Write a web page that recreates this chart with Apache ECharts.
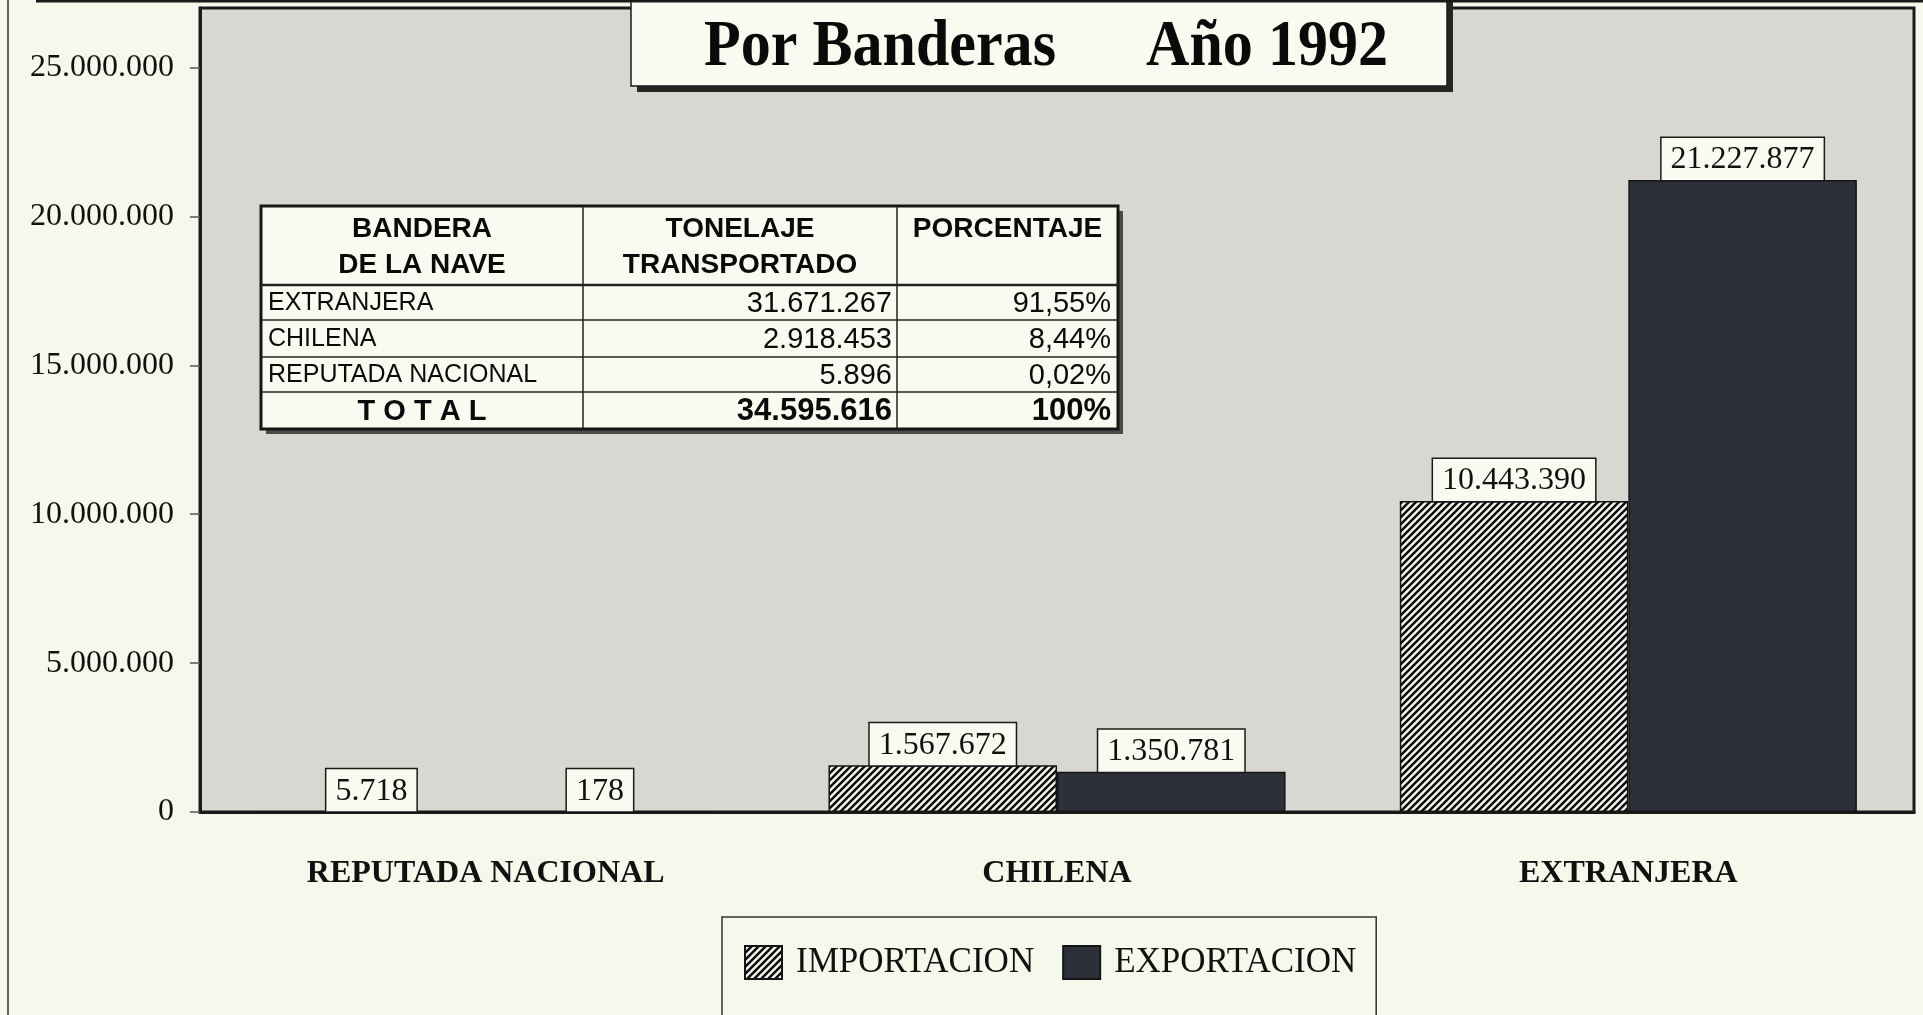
<!DOCTYPE html>
<html>
<head>
<meta charset="utf-8">
<title>Por Banderas Año 1992</title>
<script src="https://cdn.jsdelivr.net/npm/echarts@6/dist/echarts.min.js"></script>
<style>
    html, body { margin: 0; padding: 0; background: #f6f8ec; }
    #chart { width: 1923px; height: 1015px; }
</style>
</head>
<body>
<div id="chart"></div>
<script>
    // datos del grafico
    const categories = ['REPUTADA NACIONAL', 'CHILENA', 'EXTRANJERA'];
    const importacion = [5718, 1567672, 10443390];
    const exportacion = [178, 1350781, 21227877];
    const yTickValues = [0, 5000000, 10000000, 15000000, 20000000, 25000000];
    const titleText = 'Por Banderas      Año 1992';

    // tabla de resumen
    const tableHeaders = [['BANDERA', 'DE LA NAVE'], ['TONELAJE', 'TRANSPORTADO'], ['PORCENTAJE']];
    const tableNames = ['EXTRANJERA', 'CHILENA', 'REPUTADA NACIONAL'];
    const tableTonnage = [31671267, 2918453, 5896];
    const tablePercent = ['91,55%', '8,44%', '0,02%'];
    const tableTotal = ['T O T A L', 34595616, '100%'];

    const SERIF = '"Liberation Serif", "Times New Roman", serif';
    const SANS = '"Liberation Sans", Arial, sans-serif';

    function fmt(v) {
        return String(v).replace(/\B(?=(\d{3})+(?!\d))/g, '.');
    }

    function hatch() {
        let c = document.createElement('canvas');
        c.width = 7;
        c.height = 7;
        let g = c.getContext('2d');
        g.fillStyle = '#f6f6f0';
        g.fillRect(0, 0, 7, 7);
        g.strokeStyle = '#0d0d0d';
        g.lineWidth = 2.5;
        g.beginPath();
        g.moveTo(-1, 8); g.lineTo(8, -1);
        g.moveTo(-1, 1); g.lineTo(1, -1);
        g.moveTo(6, 8); g.lineTo(8, 6);
        g.stroke();
        return c;
    }

    function buildTitle() {
        return {
            type: 'group', z: 30,
            children: [
                { type: 'rect', shape: { x: 637, y: 1, width: 816, height: 91 }, style: { fill: '#262626' } },
                { type: 'rect', shape: { x: 631, y: -5, width: 816, height: 91 }, style: { fill: '#fafbf0', stroke: '#1a1a1a', lineWidth: 1.5 } },
                { type: 'text', x: 704, y: 48, scaleX: 0.91,
                    style: { text: titleText, font: 'bold 66px ' + SERIF, fill: '#0a0a0a', align: 'left', verticalAlign: 'middle' } }
            ]
        };
    }

    function buildTable() {
        const tx = [261, 583, 897, 1118];
        const ty = [206, 285, 320, 357, 392, 429];
        let els = [];
        els.push({ type: 'rect', shape: { x: tx[0] + 5, y: ty[0] + 5, width: tx[3] - tx[0], height: ty[5] - ty[0] }, style: { fill: '#4a4a4a' } });
        els.push({ type: 'rect', shape: { x: tx[0], y: ty[0], width: tx[3] - tx[0], height: ty[5] - ty[0] }, style: { fill: '#fafbf0', stroke: '#161616', lineWidth: 3 } });
        [tx[1], tx[2]].forEach(x => {
            els.push({ type: 'line', shape: { x1: x, y1: ty[0], x2: x, y2: ty[5] }, style: { stroke: '#222', lineWidth: 1.5 } });
        });
        for (let i = 1; i < 5; i++) {
            els.push({ type: 'line', shape: { x1: tx[0], y1: ty[i], x2: tx[3], y2: ty[i] }, style: { stroke: '#222', lineWidth: i === 1 ? 2.5 : 1.5 } });
        }
        tableHeaders.forEach((lines, c) => {
            lines.forEach((t, k) => {
                els.push({ type: 'text', x: (tx[c] + tx[c + 1]) / 2, y: 229 + k * 36,
                    style: { text: t, font: 'bold 28px ' + SANS, fill: '#0a0a0a', align: 'center', verticalAlign: 'middle' } });
            });
        });
        tableNames.forEach((name, r) => {
            let cy = (ty[r + 1] + ty[r + 2]) / 2 + 1;
            els.push({ type: 'text', x: tx[0] + 7, y: cy, style: { text: name, font: '25px ' + SANS, fill: '#0a0a0a', align: 'left', verticalAlign: 'middle' } });
            els.push({ type: 'text', x: tx[2] - 5, y: cy, style: { text: fmt(tableTonnage[r]), font: '29px ' + SANS, fill: '#0a0a0a', align: 'right', verticalAlign: 'middle' } });
            els.push({ type: 'text', x: tx[3] - 7, y: cy, style: { text: tablePercent[r], font: '29px ' + SANS, fill: '#0a0a0a', align: 'right', verticalAlign: 'middle' } });
        });
        let cy = (ty[4] + ty[5]) / 2 + 1;
        els.push({ type: 'text', x: (tx[0] + tx[1]) / 2, y: cy, style: { text: tableTotal[0], font: 'bold 29px ' + SANS, fill: '#0a0a0a', align: 'center', verticalAlign: 'middle' } });
        els.push({ type: 'text', x: tx[2] - 5, y: cy, style: { text: fmt(tableTotal[1]), font: 'bold 31px ' + SANS, fill: '#0a0a0a', align: 'right', verticalAlign: 'middle' } });
        els.push({ type: 'text', x: tx[3] - 7, y: cy, style: { text: tableTotal[2], font: 'bold 31px ' + SANS, fill: '#0a0a0a', align: 'right', verticalAlign: 'middle' } });
        return { type: 'group', z: 20, children: els };
    }

    const barLabel = {
        show: true,
        position: 'top',
        distance: 0,
        formatter: p => fmt(p.value),
        fontFamily: SERIF,
        fontSize: 32,
        color: '#111',
        backgroundColor: '#fafbf0',
        borderColor: '#1a1a1a',
        borderWidth: 1.5,
        padding: [6, 9, 4, 9]
    };

    let chart = echarts.init(document.getElementById('chart'));
    let option = {
        backgroundColor: '#f6f8ec',
        animation: false,
        legend: {
            left: 722,
            top: 917,
            padding: [28, 20, 60, 22],
            borderColor: '#333',
            borderWidth: 1.5,
            itemWidth: 37,
            itemHeight: 33,
            itemGap: 28,
            selectedMode: false,
            icon: 'rect',
            textStyle: { fontFamily: SERIF, fontSize: 35, color: '#111', padding: [0, 0, 0, 9] },
            data: ['IMPORTACION', 'EXPORTACION']
        },
        grid: {
            left: 200,
            right: 9,
            top: 8,
            bottom: 203,
            show: true,
            backgroundColor: '#d8d7d1',
            borderColor: '#1a1a1a',
            borderWidth: 3
        },
        xAxis: {
            type: 'category',
            data: categories,
            axisLine: { lineStyle: { color: '#1a1a1a', width: 3 } },
            axisTick: { length: 13, lineStyle: { color: '#333', width: 1.5 } },
            axisLabel: { margin: 46, fontFamily: SERIF, fontWeight: 'bold', fontSize: 32, color: '#111' }
        },
        yAxis: {
            type: 'value',
            min: 0,
            max: 27000000,
            axisLine: { show: true, lineStyle: { color: '#1a1a1a', width: 3 } },
            axisTick: { show: true, length: 10, customValues: yTickValues, lineStyle: { color: '#555', width: 1.5 } },
            axisLabel: { customValues: yTickValues, margin: 26, formatter: fmt, fontFamily: SERIF, fontSize: 32, color: '#111' },
            splitLine: { show: false }
        },
        series: [
            {
                name: 'IMPORTACION',
                type: 'bar',
                data: importacion,
                barGap: '0%',
                barCategoryGap: '20%',
                itemStyle: { color: { image: hatch(), repeat: 'repeat' }, borderColor: '#141414', borderWidth: 1.5 },
                emphasis: { disabled: true },
                label: barLabel
            },
            {
                name: 'EXPORTACION',
                type: 'bar',
                data: exportacion,
                itemStyle: { color: '#2c3038', borderColor: '#141414', borderWidth: 1.5 },
                emphasis: { disabled: true },
                label: barLabel
            }
        ],
        graphic: [
            { type: 'line', z: 25, shape: { x1: 8, y1: 0, x2: 8, y2: 1015 }, style: { stroke: '#333', lineWidth: 1.5 } },
            { type: 'line', z: 25, shape: { x1: 36, y1: 1, x2: 1923, y2: 1 }, style: { stroke: '#1a1a1a', lineWidth: 3 } },
            buildTable(),
            buildTitle()
        ]
    };
    chart.setOption(option);
</script>
</body>
</html>
